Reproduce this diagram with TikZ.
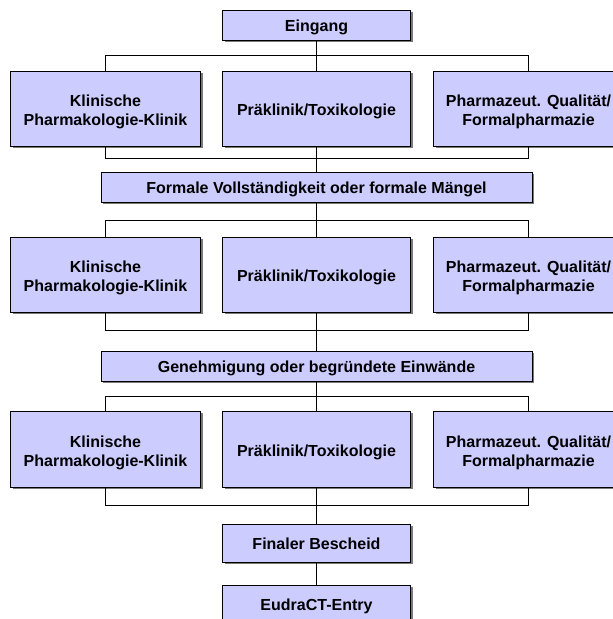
\documentclass[tikz,border=0pt]{standalone}
\usepackage{fontspec}
\setmainfont{Liberation Sans}
\usetikzlibrary{shadows}
\definecolor{boxfill}{HTML}{CCCCFF}
\definecolor{shadowgray}{HTML}{7A7A7A}
\newcommand\toppad{\rule{0pt}{18.5pt}}
\begin{document}
\begin{tikzpicture}[x=1pt,y=-1pt,
  box/.style={draw=black, line width=0.9pt, fill=boxfill, align=center,
    inner sep=0pt, font=\fontsize{16}{19}\selectfont\bfseries,
    drop shadow={shadow xshift=2.2pt, shadow yshift=-2.2pt, fill=shadowgray, opacity=1}},
  one/.style={text height=13pt, text depth=0pt},
  mid/.style={text height=14.5pt, text depth=0pt},
  wide/.style={box, minimum width=190pt, minimum height=75pt},
  small/.style={box, one, minimum width=188pt, minimum height=30pt},
  long/.style={box, one, minimum width=431pt, minimum height=30pt},
  conn/.style={draw=black, line width=0.9pt}]
\useasboundingbox (0,0) rectangle (613,619);
\clip (0,0) rectangle (613,619);
\fill[white] (0,0) rectangle (613,619);

\node[small] (ein) at (316.5,25) {Eingang};

\node[wide] (k1) at (105.5,108.5) {\toppad Klinische\\Pharmakologie-Klinik};
\node[wide, mid, minimum width=188pt] (p1) at (316.5,108.5) {Präklinik/Toxikologie};
\node[wide] (r1) at (528.5,108.5) {\toppad Pharmazeut. Qualität/\\Formalpharmazie};

\node[long] (form) at (316.5,187) {Formale Vollständigkeit oder formale Mängel};

\node[wide] (k2) at (105.5,274.5) {\toppad Klinische\\Pharmakologie-Klinik};
\node[wide, mid, minimum width=188pt] (p2) at (316.5,274.5) {Präklinik/Toxikologie};
\node[wide] (r2) at (528.5,274.5) {\toppad Pharmazeut. Qualität/\\Formalpharmazie};

\node[long] (gen) at (316.5,366) {Genehmigung oder begründete Einwände};

\node[wide, minimum height=76pt] (k3) at (105.5,449) {\toppad Klinische\\Pharmakologie-Klinik};
\node[wide, mid, minimum width=188pt, minimum height=76pt] (p3) at (316.5,449) {Präklinik/Toxikologie};
\node[wide, minimum height=76pt] (r3) at (528.5,449) {\toppad Pharmazeut. Qualität/\\Formalpharmazie};

\node[small, minimum height=38pt] (fin) at (316.5,543) {Finaler Bescheid};
\node[small, minimum height=38pt] (eud) at (316.5,604) {EudraCT-Entry};

% level 1
\coordinate (a1) at (316.5,55.5);
\coordinate (b1) at (316.5,158.5);
\draw[conn] (ein.south) -- (a1);
\draw[conn] (a1) -| (k1.north);
\draw[conn] (a1) -| (r1.north);
\draw[conn] (a1) -- (p1.north);
\draw[conn] (k1.south) |- (b1) -| (r1.south);
\draw[conn] (p1.south) -- (form.north);

% level 2
\coordinate (a2) at (316.5,220.5);
\coordinate (b2) at (316.5,330.5);
\draw[conn] (form.south) -- (a2);
\draw[conn] (a2) -| (k2.north);
\draw[conn] (a2) -| (r2.north);
\draw[conn] (a2) -- (p2.north);
\draw[conn] (k2.south) |- (b2) -| (r2.south);
\draw[conn] (p2.south) -- (gen.north);

% level 3
\coordinate (a3) at (316.5,396.5);
\coordinate (b3) at (316.5,505.5);
\draw[conn] (gen.south) -- (a3);
\draw[conn] (a3) -| (k3.north);
\draw[conn] (a3) -| (r3.north);
\draw[conn] (a3) -- (p3.north);
\draw[conn] (k3.south) |- (b3) -| (r3.south);
\draw[conn] (p3.south) -- (fin.north);

\draw[conn] (fin.south) -- (eud.north);
\end{tikzpicture}
\end{document}
